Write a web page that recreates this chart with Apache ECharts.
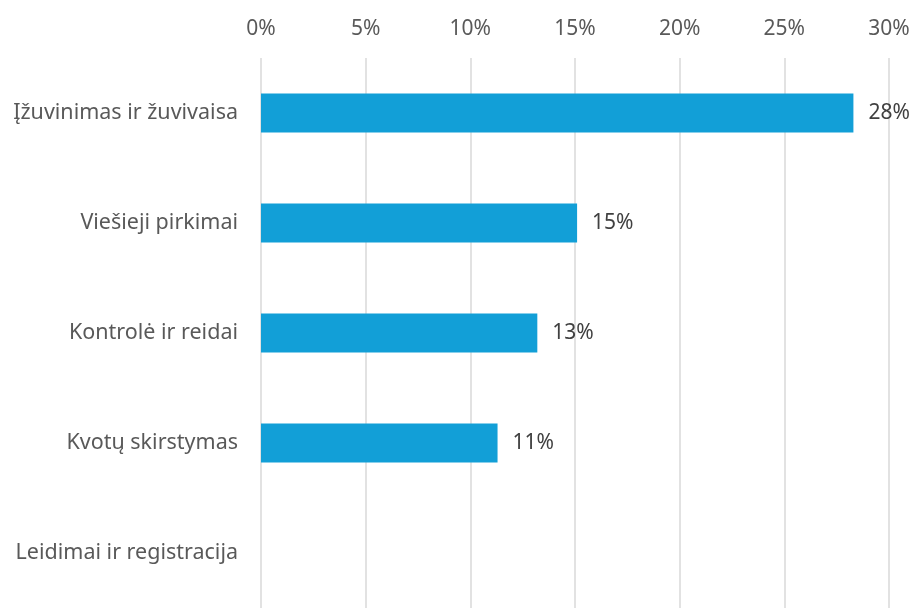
<!DOCTYPE html>
<html>
<head>
<meta charset="utf-8">
<script src="https://cdn.jsdelivr.net/npm/echarts@6/dist/echarts.min.js"></script>
<style>
html,body{margin:0;padding:0;background:#fff;}
#c{width:916px;height:608px;}
</style>
</head>
<body>
<div id="c"></div>
<script>
const categories = ['Įžuvinimas ir žuvivaisa', 'Viešieji pirkimai', 'Kontrolė ir reidai', 'Kvotų skirstymas', 'Leidimai ir registracija'];
const values = [28.3, 15.1, 13.2, 11.3, null];
const tickMin = 0, tickMax = 30, tickStep = 5;

const FONT = '"Noto Sans"';
const chart = echarts.init(document.getElementById('c'), null, {renderer: 'canvas'});
chart.setOption({
  animation: false,
  backgroundColor: '#ffffff',
  grid: {left: 261, right: 27, top: 58, height: 556, containLabel: false},
  xAxis: {
    type: 'value', position: 'top', min: tickMin, max: tickMax, interval: tickStep,
    axisLine: {show: false}, axisTick: {show: false},
    axisLabel: {formatter: '{value}%', color: '#595959', fontSize: 21, fontFamily: FONT, margin: 18},
    splitLine: {show: true, lineStyle: {color: '#d9d9d9', width: 1.5}}
  },
  yAxis: {
    type: 'category', data: categories, inverse: true,
    axisLine: {show: false}, axisTick: {show: false},
    axisLabel: {color: '#595959', fontSize: 21.5, fontFamily: FONT, margin: 23},
    splitLine: {show: false}
  },
  series: [{
    type: 'bar', data: values, barWidth: '35.5%',
    itemStyle: {color: '#129fd7'},
    label: {show: true, position: 'right', distance: 15, color: '#404040', fontSize: 21, fontFamily: FONT,
      formatter: p => (p.value == null ? '' : Math.round(p.value) + '%')}
  }]
});
</script>
</body>
</html>
